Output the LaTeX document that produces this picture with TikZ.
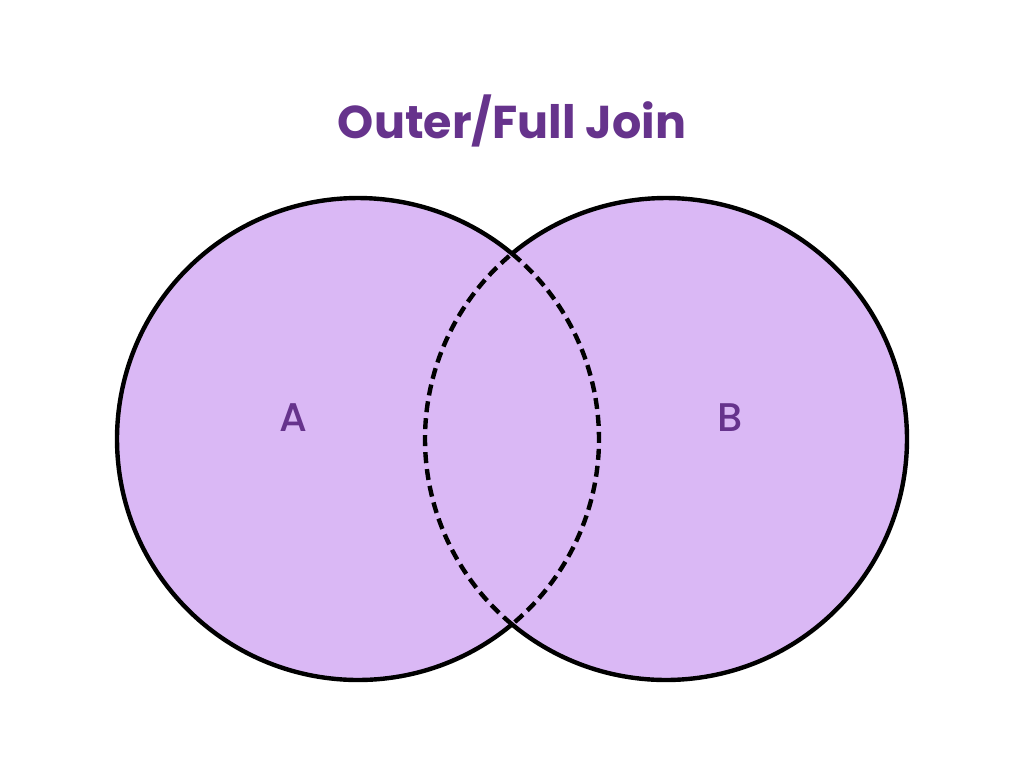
\documentclass[tikz,border=0pt]{standalone}
\usepackage{fontspec}
\newfontfamily\titlefont{Poppins}
\newfontfamily\labelfont{Poppins}[UprightFont={* Medium}]
\definecolor{vfill}{HTML}{DAB8F5}
\definecolor{vtext}{HTML}{66338C}
\begin{document}
\begin{tikzpicture}[x=1pt,y=-1pt,
  edge/.style={line width=4.4pt,black},
  dashedge/.style={line width=4.4pt,black,dash pattern=on 11pt off 6pt},
  lbl/.style={text=vtext,font=\labelfont\fontsize{40}{40}\selectfont,inner sep=0pt}]
\useasboundingbox (0,0) rectangle (1024,768);
\fill[white] (0,0) rectangle (1024,768);
\coordinate (ca) at (358,439);
\coordinate (cb) at (666,439);
\fill[vfill] (ca) circle[radius=241];
\fill[vfill] (cb) circle[radius=241];
\draw[edge] ([shift={(50.2:241)}]ca) arc[start angle=50.2,end angle=309.8,radius=241];
\draw[edge] ([shift={(129.8:241)}]cb) arc[start angle=129.8,end angle=-129.8,radius=241];
\draw[dashedge] ([shift={(-50.2:241)}]ca) arc[start angle=-50.2,end angle=50.2,radius=241];
\draw[dashedge] ([shift={(129.8:241)}]cb) arc[start angle=129.8,end angle=230.2,radius=241];
\node[text=vtext,font=\titlefont\bfseries\fontsize{46}{46}\selectfont,inner sep=0pt] (title) at (512,121) {Outer/Full Join};
\node[lbl] (a) at (293,418) {A};
\node[lbl] (b) at (730,418) {B};
\end{tikzpicture}
\end{document}
